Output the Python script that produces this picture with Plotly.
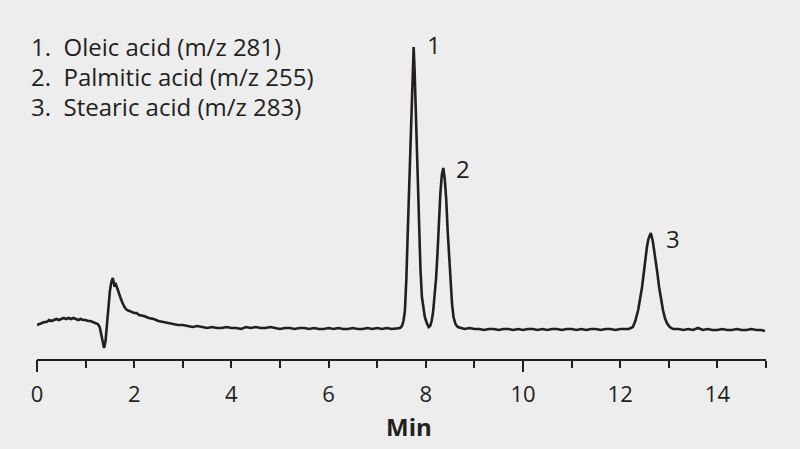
import plotly.graph_objects as go

# Retention time (min) and detector signal (relative units)
time_min = [
    0.00, 0.05, 0.10, 0.15, 0.20, 0.25, 0.30, 0.35, 0.40, 0.45, 0.50, 0.55, 0.60, 0.65, 0.70,
    0.75, 0.80, 0.85, 0.90, 0.95, 1.00, 1.05, 1.10, 1.15, 1.20, 1.25, 1.29, 1.32, 1.35, 1.38,
    1.41, 1.44, 1.47, 1.50, 1.53, 1.56, 1.59, 1.62, 1.65, 1.68, 1.72, 1.76, 1.80, 1.85, 1.90,
    1.95, 2.00, 2.05, 2.10, 2.20, 2.30, 2.40, 2.50, 2.60, 2.70, 2.80, 2.90, 3.00, 3.10, 3.20,
    3.30, 3.40, 3.50, 3.60, 3.70, 3.80, 3.90, 4.00, 4.10, 4.20, 4.30, 4.40, 4.50, 4.60, 4.70,
    4.80, 4.90, 5.00, 5.10, 5.20, 5.30, 5.40, 5.50, 5.60, 5.70, 5.80, 5.90, 6.00, 6.10, 6.20,
    6.30, 6.40, 6.50, 6.60, 6.70, 6.80, 6.90, 7.00, 7.10, 7.20, 7.30, 7.40, 7.47, 7.51, 7.54,
    7.57, 7.60, 7.63, 7.66, 7.69, 7.71, 7.73, 7.75, 7.77, 7.79, 7.82, 7.84, 7.86, 7.89, 7.92,
    7.95, 7.98, 8.02, 8.06, 8.09, 8.12, 8.15, 8.18, 8.21, 8.24, 8.27, 8.30, 8.33, 8.36, 8.39,
    8.42, 8.45, 8.48, 8.51, 8.54, 8.57, 8.61, 8.66, 8.72, 8.80, 8.90, 9.00, 9.10, 9.20, 9.30,
    9.40, 9.50, 9.60, 9.70, 9.80, 9.90, 10.00, 10.10, 10.20, 10.30, 10.40, 10.50, 10.60, 10.70, 10.80,
    10.90, 11.00, 11.10, 11.20, 11.30, 11.40, 11.50, 11.60, 11.70, 11.80, 11.90, 12.00, 12.10, 12.18, 12.26,
    12.31, 12.37, 12.41, 12.45, 12.49, 12.52, 12.55, 12.58, 12.61, 12.63, 12.65, 12.67, 12.70, 12.74, 12.77,
    12.80, 12.84, 12.88, 12.92, 12.96, 13.02, 13.09, 13.20, 13.30, 13.40, 13.50, 13.60, 13.70, 13.80, 13.90,
    14.00, 14.10, 14.20, 14.30, 14.40, 14.50, 14.60, 14.70, 14.80, 14.90, 14.98,
]
signal = [
    34, 35, 36, 37, 37, 39, 38, 39, 40, 39, 40, 41, 40, 41, 40,
    41, 40, 39, 40, 39, 39, 38, 38, 37, 36, 35, 32, 25, 16, 11,
    18, 36, 55, 68, 77, 81, 74, 75, 71, 66, 61, 56, 52, 49, 48,
    47, 46, 46, 44, 43, 41, 40, 38, 37, 36, 35, 34, 34, 33, 32,
    33, 32, 31, 32, 31, 31, 32, 31, 31, 30, 32, 31, 32, 31, 31,
    32, 31, 30, 31, 31, 30, 31, 31, 30, 31, 30, 30, 31, 30, 31,
    30, 30, 31, 30, 30, 31, 30, 31, 30, 31, 30, 31, 31, 33, 38,
    48, 80, 129, 180, 225, 262, 300, 312, 288, 252, 210, 170, 130, 90, 62,
    49, 42, 36, 32, 33, 38, 47, 62, 80, 105, 140, 166, 184, 191, 180,
    160, 128, 100, 74, 55, 42, 35, 32, 31, 30, 31, 30, 30, 29, 30,
    30, 29, 30, 30, 29, 30, 29, 30, 30, 29, 30, 29, 30, 30, 29,
    30, 30, 29, 30, 29, 30, 30, 29, 30, 30, 29, 30, 30, 30, 32,
    38, 49, 60, 72, 88, 101, 112, 120, 125, 126, 122, 118, 108, 96, 84,
    72, 60, 49, 41, 36, 32, 30, 30, 29, 30, 29, 31, 29, 30, 29,
    29, 30, 29, 29, 30, 29, 29, 30, 29, 29, 28,
]

tick_values = list(range(0, 16))
tick_labels = [str(v) if v % 2 == 0 else "" for v in tick_values]
long_ticks = [0, 10]

peak_labels = ["1", "2", "3"]
peak_label_x = [8.17, 8.77, 13.08]
peak_label_y = [315, 191, 121]

legend_lines = ["1.  Oleic acid (m/z 281)", "2.  Palmitic acid (m/z 255)", "3.  Stearic acid (m/z 283)"]
legend_y = [313, 283, 253]

INK = "#231f20"
BG = "#ededed"
FONT = "Open Sans"

fig = go.Figure()
fig.add_trace(go.Scatter(x=time_min, y=signal, mode="lines",
                         line=dict(color=INK, width=2.6), showlegend=False, hoverinfo="skip"))
# invisible trace to activate secondary x axis (long ticks)
fig.add_trace(go.Scatter(x=[0, 15], y=[None, None], xaxis="x2", mode="lines", showlegend=False))

for txt, x, y in zip(peak_labels, peak_label_x, peak_label_y):
    fig.add_annotation(x=x, y=y, text=txt, showarrow=False, xanchor="center", yanchor="middle",
                       font=dict(family=FONT, size=24, color=INK))

for txt, y in zip(legend_lines, legend_y):
    fig.add_annotation(x=-0.011, xref="paper", y=y, text=txt, showarrow=False, xanchor="left",
                       yanchor="middle", font=dict(family=FONT, size=24, color=INK))

fig.add_annotation(x=0.51, y=-0.205, xref="paper", yref="paper", text="<b>Min</b>", showarrow=False,
                   xanchor="center", yanchor="middle", font=dict(family=FONT, size=24, color=INK))

fig.update_layout(
    width=800, height=449,
    margin=dict(l=37, r=34, t=30, b=90),
    paper_bgcolor=BG, plot_bgcolor=BG,
    xaxis=dict(range=[0, 15], showgrid=False, zeroline=False, showline=True, linecolor=INK, linewidth=2,
               ticks="outside", ticklen=7, tickwidth=2, tickcolor=INK,
               tickvals=tick_values, ticktext=tick_labels, ticklabelstandoff=8,
               tickfont=dict(family=FONT, size=22, color=INK)),
    xaxis2=dict(range=[0, 15], overlaying="x", side="bottom", showgrid=False, zeroline=False, showline=False,
                ticks="outside", ticklen=12, tickwidth=2, tickcolor=INK, tickvals=long_ticks,
                showticklabels=False),
    yaxis=dict(range=[0, 329], visible=False, showgrid=False, zeroline=False),
)

fig.write_html("out.html", config={"displayModeBar": False},
               post_script="document.body.style.margin='0';")
